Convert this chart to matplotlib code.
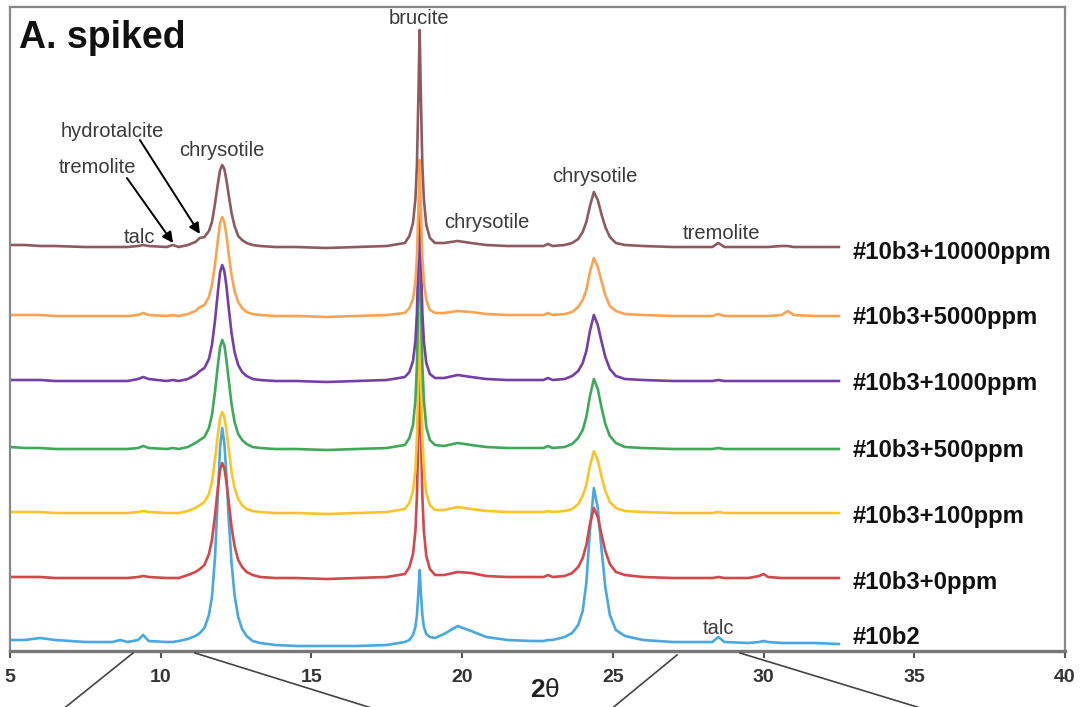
import numpy as np
import matplotlib
matplotlib.use("Agg")
import matplotlib.pyplot as plt
from matplotlib.lines import Line2D

plt.rcParams['font.family'] = ['Liberation Sans', 'DejaVu Sans']
plt.rcParams['mathtext.fontset'] = 'custom'
plt.rcParams['mathtext.rm'] = 'Liberation Sans'
plt.rcParams['mathtext.bf'] = 'Liberation Sans:bold'
plt.rcParams['mathtext.it'] = 'Liberation Sans'

# ---------------- data ----------------
# shared 2-theta sampling
TWO_THETA = [
    5.0, 5.5, 6.0, 6.5, 7.5, 8.4, 8.65, 8.9, 9.25, 9.42, 9.6, 10.2, 10.4, 10.6,
    10.9, 11.15, 11.3, 11.45, 11.6, 11.7, 11.8, 11.9, 11.97, 12.04,
    12.11, 12.18, 12.26, 12.35, 12.45, 12.57, 12.7, 12.85, 13.05, 13.3,
    13.8, 14.5, 15.5, 16.5, 17.5,
    18.1, 18.25, 18.37, 18.45, 18.5, 18.55, 18.59, 18.63, 18.68, 18.73, 18.81, 18.93, 19.1,
    19.4, 19.85, 20.3, 20.8, 21.5, 22.3, 22.7, 22.85, 23.0,
    23.4, 23.65, 23.85, 24.0, 24.12, 24.24, 24.37, 24.5, 24.62, 24.75, 24.9, 25.1, 25.4,
    26.0, 27.0, 28.3, 28.5, 28.7, 29.5, 29.85, 30.0, 30.15, 30.6, 30.8, 31.0, 31.7, 32.5,
]

# intensity above each trace's own baseline (arbitrary units)
I_10000PPM = [
    2, 2, 1, 1, 0, 0, 0, 0, 1, 2, 1, 0, 2, 0,
    2, 5, 9, 10, 16, 25, 43, 64, 77, 82,
    78, 67, 51, 34, 21, 11, 7, 4, 2, 1,
    0, 0, -1, 0, 1,
    4, 11, 24, 48, 82, 152, 217, 152, 82, 48, 22, 9, 4,
    4, 6, 4, 2, 1, 1, 1, 3, 1,
    2, 4, 8, 15, 25, 41, 55, 47, 33, 20, 10, 4, 2,
    1, 0, 0, 4, 0, 0, 0, 0, 0, 1, 1, 0, 0, 0,
]
I_5000PPM = [
    1, 1, 1, 0, 0, 0, 0, 0, 1, 3, 1, 0, 1, 0,
    2, 5, 9, 11, 19, 31, 51, 77, 93, 99,
    94, 81, 61, 41, 25, 14, 8, 4, 2, 1,
    0, 0, -1, 0, 1,
    3, 8, 17, 34, 59, 109, 156, 109, 59, 34, 16, 6, 3,
    3, 5, 4, 2, 1, 1, 1, 3, 1,
    2, 4, 9, 16, 26, 44, 58, 49, 35, 21, 10, 5, 2,
    1, 0, 0, 2, 0, 0, 0, 0, 0, 1, 5, 1, 0, 0,
]
I_1000PPM = [
    1, 1, 1, 0, 0, 0, 0, 0, 2, 4, 2, 0, 1, 0,
    2, 6, 10, 13, 22, 36, 60, 90, 109, 116,
    110, 95, 72, 48, 29, 16, 9, 5, 2, 1,
    0, 0, -1, 0, 1,
    4, 9, 20, 40, 68, 126, 180, 126, 68, 40, 18, 7, 3,
    3, 6, 4, 2, 1, 1, 1, 3, 1,
    2, 5, 10, 18, 30, 50, 66, 56, 40, 24, 12, 5, 2,
    1, 0, 0, 1, 0, 0, 0, 0, 0, 0, 0, 0, 0, 0,
]
I_500PPM = [
    2, 1, 1, 0, 0, 0, 0, 0, 1, 3, 1, 0, 1, 0,
    2, 6, 9, 12, 21, 34, 57, 85, 102, 109,
    104, 89, 68, 45, 27, 15, 9, 5, 2, 1,
    0, 0, -1, 0, 1,
    4, 11, 24, 49, 84, 155, 221, 155, 84, 49, 22, 9, 4,
    3, 6, 4, 2, 1, 1, 1, 3, 1,
    2, 5, 11, 19, 32, 53, 70, 60, 42, 25, 13, 6, 2,
    1, 0, 0, 1, 0, 0, 0, 0, 0, 0, 0, 0, 0, 0,
]
I_100PPM = [
    1, 1, 1, 0, 0, 0, 0, 0, 1, 2, 1, 0, 0, 0,
    2, 5, 8, 11, 19, 31, 53, 79, 95, 101,
    96, 83, 63, 41, 25, 14, 8, 4, 2, 1,
    0, 0, -1, 0, 1,
    4, 10, 22, 44, 76, 140, 200, 140, 76, 44, 20, 8, 3,
    3, 6, 4, 2, 1, 1, 1, 2, 1,
    2, 4, 9, 17, 28, 47, 62, 53, 37, 22, 11, 5, 2,
    1, 0, 0, 1, 0, 0, 0, 0, 0, 0, 0, 0, 0, 0,
]
I_0PPM = [
    1, 1, 1, 0, 0, 0, 0, 0, 1, 2, 1, 0, 0, 0,
    3, 6, 9, 13, 24, 38, 62, 91, 108, 115,
    110, 96, 75, 51, 32, 18, 11, 6, 3, 1,
    0, 0, -1, 0, 1,
    4, 11, 24, 47, 82, 150, 215, 150, 82, 47, 22, 9, 3,
    3, 6, 5, 2, 1, 1, 1, 3, 1,
    2, 5, 11, 20, 33, 54, 70, 61, 44, 27, 14, 6, 3,
    1, 0, 0, 1, 0, 0, 2, 4, 1, 0, 0, 0, 0, 0,
]
I_10B2 = [
    3, 3, 5, 3, 1, 1, 3, 1, 3, 8, 2, 1, 1, 2,
    4, 7, 10, 15, 28, 46, 85, 150, 196, 215,
    200, 168, 122, 80, 48, 26, 14, 7, 2, 0,
    -2, -3, -3, -3, -2,
    1, 3, 8, 16, 28, 51, 73, 51, 28, 16, 9, 6, 5,
    9, 17, 12, 6, 3, 2, 2, 3, 3,
    6, 10, 18, 32, 60, 112, 155, 135, 95, 56, 28, 13, 7,
    3, 1, 1, 6, 1, 0, 1, 2, 1, 0, 0, 0, 0, -1,
]

SAMPLES = ['#10b3+10000ppm', '#10b3+5000ppm', '#10b3+1000ppm',
           '#10b3+500ppm', '#10b3+100ppm', '#10b3+0ppm', '#10b2']
INTENSITIES = [I_10000PPM, I_5000PPM, I_1000PPM, I_500PPM,
               I_100PPM, I_0PPM, I_10B2]

# stacking offset of each trace
OFFSETS = [404, 335, 270, 202, 138, 73, 8]
LABEL_Y = [399, 334, 268, 201, 134, 69, 14]
COLORS = ['#8d5b5f', '#fba352', '#7440a8', '#3fa95a',
          '#fdc42a', '#d4474a', '#4aa8e0']

# phase labels: (text, x, y)
PHASE_LABELS = [
    ('brucite', 18.57, 633),
    ('chrysotile', 12.03, 501),
    ('hydrotalcite', 8.38, 520),
    ('tremolite', 7.89, 484),
    ('talc', 9.28, 414),
    ('chrysotile', 20.83, 429),
    ('chrysotile', 24.41, 475),
    ('tremolite', 28.59, 418),
    ('talc', 28.49, 23),
]
# arrows: (tail x, tail y, head x, head y)
ARROWS = [
    (8.88, 473, 10.41, 408),
    (9.31, 511, 11.30, 417),
]

XTICKS = [5, 10, 15, 20, 25, 30, 35, 40]

# ---------------- plot ----------------
W, H = 1090, 707
fig = plt.figure(figsize=(W / 100, H / 100), dpi=100)
ax = fig.add_axes([10 / W, 1 - 651 / H, (1065 - 10) / W, (651 - 7) / H])

x = np.array(TWO_THETA)
# draw bottom trace first, top trace last
for name, ints, off, col in reversed(list(zip(SAMPLES, INTENSITIES, OFFSETS, COLORS))):
    ax.plot(x, off + np.array(ints), color=col, lw=1.9, solid_joinstyle='round')

for name, ly in zip(SAMPLES, LABEL_Y):
    ax.text(32.94, ly, name, fontsize=17.2, fontweight='bold', color='#111111',
            ha='left', va='center')

for txt, tx, ty in PHASE_LABELS:
    ax.text(tx, ty, txt, fontsize=14.5, color='#3a3a3a', ha='center', va='center')

for x0, y0, x1, y1 in ARROWS:
    ax.annotate('', xy=(x1, y1), xytext=(x0, y0),
                arrowprops=dict(arrowstyle='-|>', color='black', lw=1.4,
                                mutation_scale=16, shrinkA=0, shrinkB=0))

ax.text(5.3, 613, 'A. spiked', fontsize=27, fontweight='bold', color='#111111',
        ha='left', va='center')

ax.set_xlim(5, 40)
ax.set_ylim(0, 644)
ax.set_yticks([])
ax.set_xticks(XTICKS)
ax.set_xticklabels([str(t) for t in XTICKS], fontsize=14, fontweight='bold', color='#333333')
ax.tick_params(axis='x', direction='out', length=5, width=1.5, color='#555555', pad=8)
for sp in ax.spines.values():
    sp.set_color('#888888')
    sp.set_linewidth(1.6)
ax.spines['bottom'].set_linewidth(2.4)
ax.spines['bottom'].set_color('#777777')

fig.text(545 / W, 1 - 690 / H, r'$\mathbf{2}\theta$', fontsize=19, color='#222222',
         ha='center', va='center')

# connector lines toward the (cropped) zoom panel below
for (xa, ya), (xb, yb) in [((133, 653), (62, 710)), ((195, 653), (378, 710)),
                           ((677, 655), (610, 710)), ((740, 653), (927, 710))]:
    fig.add_artist(Line2D([xa / W, xb / W], [1 - ya / H, 1 - yb / H],
                          transform=fig.transFigure, color='#444444', lw=1.2))

fig.savefig('out.png', dpi=100, facecolor='white')
